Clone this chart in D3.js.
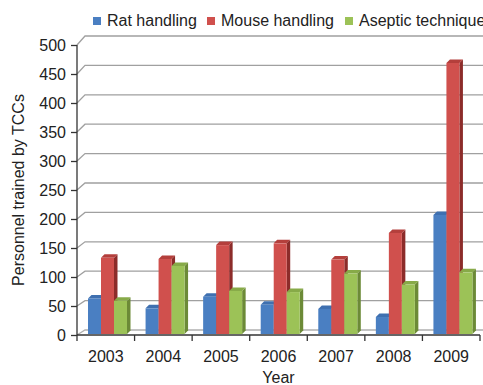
<!DOCTYPE html>
<html>
<head>
<meta charset="utf-8">
<script src="https://cdn.jsdelivr.net/npm/d3@7"></script>
<style>
  html, body { margin: 0; padding: 0; background: #fff; }
  svg { display: block; }
  text { font-family: "Liberation Sans", Arial, Helvetica, sans-serif; fill: #222; }
</style>
</head>
<body>
<svg id="chart" width="483" height="385"></svg>
<script>
// Personnel trained by TCCs, per year and course
const years = ["2003", "2004", "2005", "2006", "2007", "2008", "2009"];
const seriesNames = ["Rat handling", "Mouse handling", "Aseptic technique"];
const ratHandling = [63, 46, 66, 52, 45, 31, 207];
const mouseHandling = [133, 131, 155, 158, 130, 176, 469];
const asepticTechnique = [59, 119, 76, 74, 106, 87, 108];
const yTicks = [0, 50, 100, 150, 200, 250, 300, 350, 400, 450, 500];

const seriesValues = [ratHandling, mouseHandling, asepticTechnique];
const palette = [
  { front: "#4a7fc2", top: "#3f70b0", side: "#34598c" },
  { front: "#d0504d", top: "#b43f3c", side: "#8c2c2a" },
  { front: "#9cc257", top: "#87aa48", side: "#6c8a37" }
];

const svg = d3.select("#chart");
const plotLeft = 77, plotRight = 480, plotBottom = 335, plotTop = 45;
const fontSize = 16;

const y = d3.scaleLinear().domain([0, 500]).range([plotBottom, plotTop]);
const x = d3.scaleBand().domain(years).range([plotLeft, plotRight]);
const inner = d3.scaleBand().domain(seriesNames).range([11, 50]);

// back wall depth (grows slightly toward the top)
const wallDx = 8;
const wallDy = v => 5 + 4 * (v / 500);

// gridlines on the back wall with the slanted side-wall segment
const grid = svg.append("g");
yTicks.forEach(v => {
  const yy = y(v), d = wallDy(v);
  grid.append("path")
    .attr("d", `M${plotLeft},${yy}L${plotLeft + wallDx},${yy - d}L483,${yy - d}`)
    .attr("fill", "none")
    .attr("stroke", v === 0 ? "#b0b0b0" : "#a0a0a0")
    .attr("stroke-width", 1.3);
});

// 3D bars: front face, top face, right side face
const depth = 3.5;
const bars = svg.append("g");
years.forEach((yr, i) => {
  seriesNames.forEach((s, j) => {
    const v = seriesValues[j][i];
    const x0 = x(yr) + inner(s);
    const w = inner.bandwidth();
    const y0 = y(v), y1 = plotBottom - 1;
    const c = palette[j];
    bars.append("path")
      .attr("d", `M${x0 + w},${y0}L${x0 + w + depth},${y0 - depth}L${x0 + w + depth},${y1 - depth}L${x0 + w},${y1}Z`)
      .attr("fill", c.side);
    bars.append("path")
      .attr("d", `M${x0},${y0}L${x0 + depth},${y0 - depth}L${x0 + w + depth},${y0 - depth}L${x0 + w},${y0}Z`)
      .attr("fill", c.top);
    bars.append("rect")
      .attr("x", x0).attr("y", y0)
      .attr("width", w).attr("height", y1 - y0)
      .attr("fill", c.front);
  });
});

// y axis
const yAxis = svg.append("g").attr("transform", `translate(${plotLeft},0)`)
  .call(d3.axisLeft(y).tickValues(yTicks).tickSize(6).tickPadding(5));
yAxis.select(".domain").attr("stroke", "#333").attr("stroke-width", 1.3)
  .attr("d", `M0,${plotBottom}V${plotTop}`);
yAxis.selectAll(".tick line").attr("stroke", "#333").attr("stroke-width", 1.3);
yAxis.selectAll(".tick text").attr("font-size", fontSize).attr("fill", "#222")
  .attr("font-family", "Liberation Sans, Arial, sans-serif");

// x axis with tick marks on category boundaries
const xAxis = svg.append("g").attr("transform", `translate(0,${plotBottom})`)
  .call(d3.axisBottom(x).tickSize(0).tickPadding(16));
xAxis.select(".domain").attr("stroke", "#333").attr("stroke-width", 1.3)
  .attr("d", `M${plotLeft},0H${plotRight}`);
xAxis.selectAll(".tick text").attr("font-size", fontSize).attr("fill", "#222")
  .attr("font-family", "Liberation Sans, Arial, sans-serif");
const bounds = years.map(yr => x(yr)).concat([plotRight]);
xAxis.selectAll(".bound").data(bounds).enter().append("line")
  .attr("class", "bound")
  .attr("x1", d => d).attr("x2", d => d)
  .attr("y1", 0).attr("y2", 6)
  .attr("stroke", "#333").attr("stroke-width", 1.3);

// axis titles
svg.append("text")
  .attr("x", (plotLeft + plotRight) / 2).attr("y", 383)
  .attr("text-anchor", "middle").attr("font-size", fontSize)
  .text("Year");
svg.append("text")
  .attr("transform", `translate(24,190) rotate(-90)`)
  .attr("text-anchor", "middle").attr("font-size", fontSize)
  .text("Personnel trained by TCCs");

// legend
const legendX = [93, 207, 345];
const legend = svg.append("g");
seriesNames.forEach((s, j) => {
  legend.append("rect")
    .attr("x", legendX[j]).attr("y", 17)
    .attr("width", 8).attr("height", 8)
    .attr("fill", palette[j].front);
  legend.append("text")
    .attr("x", legendX[j] + 14).attr("y", 26)
    .attr("font-size", fontSize)
    .text(s);
});
</script>
</body>
</html>
